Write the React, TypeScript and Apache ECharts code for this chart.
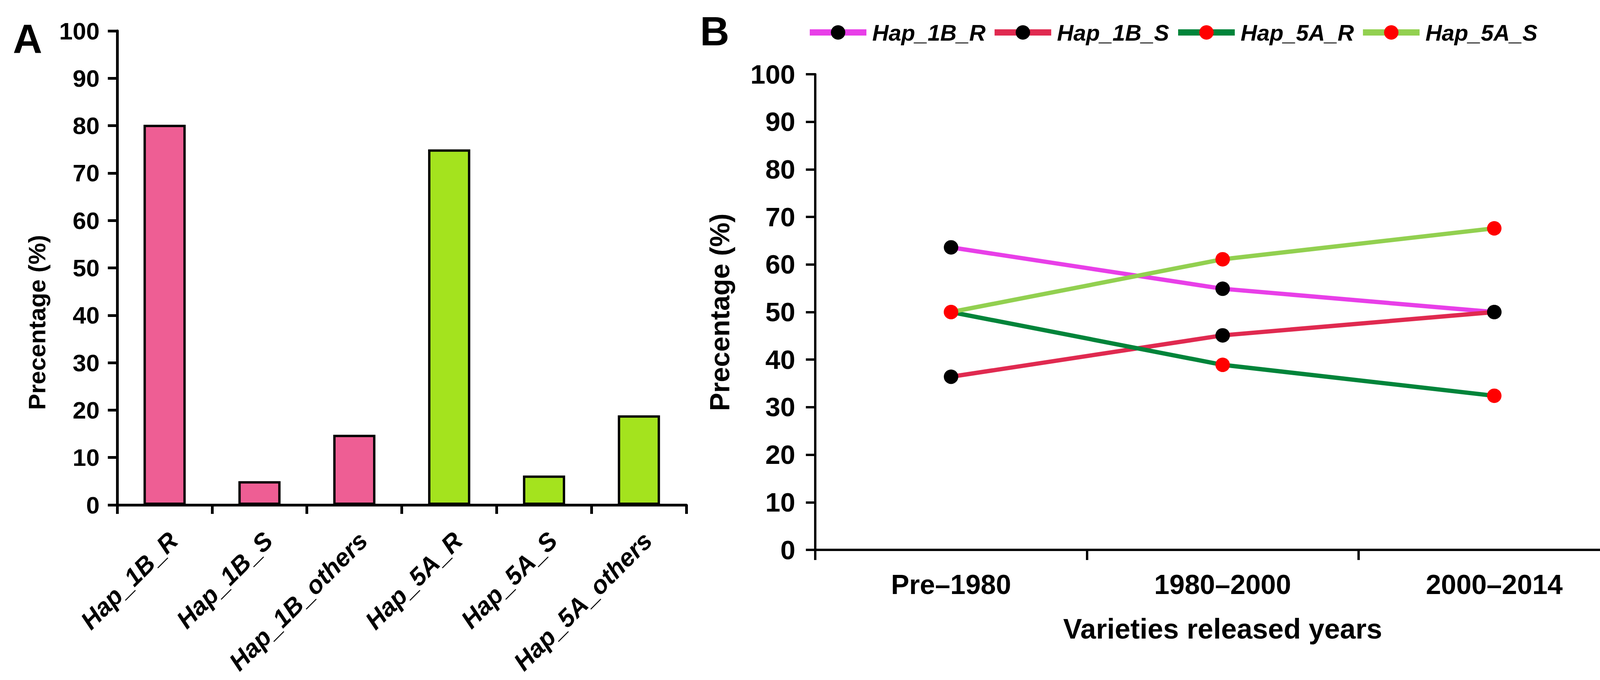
import React, { useRef, useEffect } from 'react'
import * as echarts from 'echarts'

// panel A: haplotype frequency
const hapCategories = ['Hap_1B_R', 'Hap_1B_S', 'Hap_1B_others', 'Hap_5A_R', 'Hap_5A_S', 'Hap_5A_others']
const hapValues = [80.2, 5, 14.8, 75, 6.2, 18.9]
const hapColors = ['#EE5E94', '#EE5E94', '#EE5E94', '#A4E31E', '#A4E31E', '#A4E31E']

// panel B: change over release periods
const periods = ['Pre\u20131980', '1980\u20132000', '2000\u20132014']
const hap1BR = [63.6, 54.9, 50]
const hap1BS = [36.4, 45.1, 50]
const hap5AR = [50, 38.9, 32.4]
const hap5AS = [50, 61.1, 67.6]

const lineNames = ['Hap_1B_R', 'Hap_1B_S', 'Hap_5A_R', 'Hap_5A_S']
const lineData = [hap1BR, hap1BS, hap5AR, hap5AS]
const lineColors = ['#E83FE8', '#E02A50', '#00843A', '#92D050']
const dotColors = ['#000000', '#000000', '#FF0000', '#FF0000']

const FONT = '"Liberation Sans", Arial, sans-serif'

function App() {
  const chartRef = useRef(null)

  useEffect(() => {
    const chart = echarts.init(chartRef.current, null, { renderer: 'svg' })

    const axisLine = (w) => ({ show: true, lineStyle: { color: '#000', width: w } })

    const option = {
      animation: false,
      backgroundColor: '#fff',
      grid: [
        { left: 300, top: 79, width: 1457, height: 1213 },
        { left: 2087, top: 190, width: 2086, height: 1217 },
      ],
      legend: {
        left: 2060,
        top: 49,
        itemWidth: 145,
        itemHeight: 46,
        itemGap: 15,
        lineStyle: { width: 16 },
        textStyle: {
          fontFamily: FONT,
          fontSize: 58,
          fontWeight: 'bold',
          fontStyle: 'italic',
          color: '#000',
          padding: [0, 0, 0, 10],
        },
        data: lineNames,
      },
      xAxis: [
        {
          type: 'category',
          gridIndex: 0,
          data: hapCategories,
          axisLine: axisLine(7),
          axisTick: { show: true, length: 23, lineStyle: { width: 7, color: '#000' } },
          axisLabel: {
            rotate: 45,
            margin: 58,
            verticalAlign: 'top',
            lineHeight: 64,
            fontFamily: FONT,
            fontSize: 64,
            fontWeight: 'bold',
            fontStyle: 'italic',
            color: '#000',
          },
        },
        {
          type: 'category',
          gridIndex: 1,
          data: periods,
          axisLine: axisLine(6),
          axisTick: { show: true, length: 26, lineStyle: { width: 6, color: '#000' } },
          axisLabel: {
            margin: 54,
            fontFamily: FONT,
            fontSize: 70,
            fontWeight: 'bold',
            color: '#000',
          },
          name: 'Varieties released years',
          nameLocation: 'middle',
          nameGap: 166,
          nameTextStyle: { fontFamily: FONT, fontSize: 72, fontWeight: 'bold', color: '#000' },
        },
      ],
      yAxis: [
        {
          type: 'value',
          gridIndex: 0,
          min: 0,
          max: 100,
          interval: 10,
          splitLine: { show: false },
          axisLine: axisLine(7),
          axisTick: { show: true, length: 24, lineStyle: { width: 7, color: '#000' } },
          axisLabel: { margin: 45, fontFamily: FONT, fontSize: 62, fontWeight: 'bold', color: '#000' },
        },
        {
          type: 'value',
          gridIndex: 1,
          min: 0,
          max: 100,
          interval: 10,
          splitLine: { show: false },
          axisLine: axisLine(6),
          axisTick: { show: true, length: 24, lineStyle: { width: 6, color: '#000' } },
          axisLabel: { margin: 51, fontFamily: FONT, fontSize: 69, fontWeight: 'bold', color: '#000' },
        },
      ],
      series: [
        {
          type: 'bar',
          xAxisIndex: 0,
          yAxisIndex: 0,
          barWidth: 108,
          data: hapValues.map((v, i) => ({
            value: v,
            itemStyle: { color: hapColors[i], borderColor: '#000', borderWidth: 6 },
          })),
        },
        ...lineNames.map((name, i) => ({
          type: 'line',
          name,
          xAxisIndex: 1,
          yAxisIndex: 1,
          data: lineData[i],
          symbol: 'circle',
          symbolSize: 37,
          showSymbol: true,
          z: 3 + i,
          lineStyle: { color: lineColors[i], width: 11 },
          itemStyle: { color: dotColors[i], borderWidth: 0 },
        })),
      ],
      graphic: [
        {
          type: 'text',
          left: 33,
          top: 47,
          style: { text: 'A', fontFamily: FONT, fontSize: 104, fontWeight: 'bold', fill: '#000' },
        },
        {
          type: 'text',
          left: 1792,
          top: 28,
          style: { text: 'B', fontFamily: FONT, fontSize: 104, fontWeight: 'bold', fill: '#000' },
        },
        {
          type: 'text',
          x: 94,
          y: 825,
          rotation: Math.PI / 2,
          style: {
            text: 'Precentage (%)',
            fontFamily: FONT,
            fontSize: 62,
            fontWeight: 'bold',
            fill: '#000',
            align: 'center',
            verticalAlign: 'middle',
          },
        },
        {
          type: 'text',
          x: 1843,
          y: 799,
          rotation: Math.PI / 2,
          style: {
            text: 'Precentage (%)',
            fontFamily: FONT,
            fontSize: 70,
            fontWeight: 'bold',
            fill: '#000',
            align: 'center',
            verticalAlign: 'middle',
          },
        },
      ],
    }

    chart.setOption(option)

    return () => {
      chart.dispose()
    }
  }, [])

  return (
    <div
      ref={chartRef}
      style={{ position: 'absolute', left: 0, top: 0, width: '4196px', height: '1740px' }}
    ></div>
  )
}

export default App
